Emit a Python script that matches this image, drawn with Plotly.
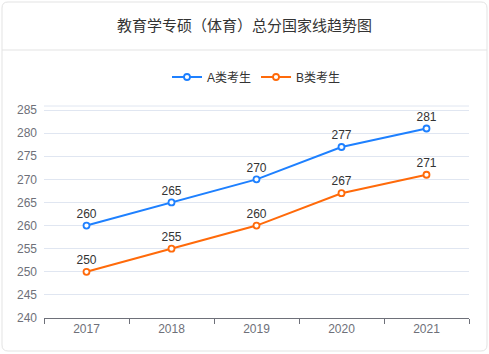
import plotly.graph_objects as go

years = ["2017", "2018", "2019", "2020", "2021"]
a_scores = [260, 265, 270, 277, 281]
b_scores = [250, 255, 260, 267, 271]
y_ticks = [240, 245, 250, 255, 260, 265, 270, 275, 280, 285]

W, H = 489, 354
L, R, T, B = 44, 20, 106, 36
PW = W - L - R
PH = H - T - B

def px_x(x):
    return (x - L) / PW

def px_y(y):
    return (H - B - y) / PH

font = "Helvetica, Arial, 'Noto Sans CJK SC', sans-serif"

fig = go.Figure()
for name, vals, color in [("A类考生", a_scores, "#1E80FF"), ("B类考生", b_scores, "#FF6A0A")]:
    fig.add_trace(go.Scatter(
        x=years, y=vals, name=name, mode="lines+markers+text",
        line=dict(color=color, width=2),
        marker=dict(symbol="circle", size=6, color="white", line=dict(color=color, width=1.8)),
        text=[str(v) for v in vals], textposition="top center",
        textfont=dict(size=12, color="#333", family=font),
        hoverinfo="skip", cliponaxis=False,
    ))

# rounded card outline
x0, x1, y0, y1 = 2, 487, 2, 351
r = 6
def P(x, y):
    return f"{px_x(x):.5f},{px_y(y):.5f}"
card_path = (f"M {P(x0 + r, y0)} L {P(x1 - r, y0)} Q {P(x1, y0)} {P(x1, y0 + r)} "
             f"L {P(x1, y1 - r)} Q {P(x1, y1)} {P(x1 - r, y1)} "
             f"L {P(x0 + r, y1)} Q {P(x0, y1)} {P(x0, y1 - r)} "
             f"L {P(x0, y0 + r)} Q {P(x0, y0)} {P(x0 + r, y0)} Z")

shapes = [
    dict(type="path", xref="paper", yref="paper", path=card_path,
         line=dict(color="#E3E3E3", width=1), fillcolor="rgba(0,0,0,0)", layer="below"),
    dict(type="line", xref="paper", yref="paper", x0=px_x(2), x1=px_x(487), y0=px_y(50), y1=px_y(50),
         line=dict(color="#E3E3E3", width=1)),
    dict(type="line", xref="paper", yref="paper", x0=0, x1=1, y0=1, y1=1,
         line=dict(color="#E0E6F1", width=1), layer="below"),
]

fig.update_layout(
    width=W, height=H, margin=dict(l=L, r=R, t=T, b=B),
    paper_bgcolor="white", plot_bgcolor="white",
    font=dict(family=font, color="#666", size=12),
    title=dict(text="教育学专硕（体育）总分国家线趋势图", x=0.5, xanchor="center",
               y=1 - 26 / H, yanchor="middle", font=dict(size=15, color="#333", family=font)),
    legend=dict(orientation="h", x=0.5, xanchor="center", y=px_y(77), yanchor="middle",
                font=dict(size=12, color="#333", family=font), itemwidth=30, bgcolor="rgba(0,0,0,0)"),
    showlegend=True,
    shapes=shapes,
    xaxis=dict(type="category", range=[-0.5, 4.5], showgrid=False, showline=True,
               linecolor="#6E7079", linewidth=1, ticks="outside", tickson="boundaries",
               ticklen=5, tickcolor="#6E7079", tickfont=dict(size=12, color="#6E7079"), fixedrange=True),
    yaxis=dict(range=[240, 285.87], tickvals=y_ticks, showgrid=True, gridcolor="#E0E6F1",
               gridwidth=1, showline=False, zeroline=False, ticks="", ticklabelstandoff=6,
               tickfont=dict(size=12, color="#6E7079"), fixedrange=True),
)

fig.write_html("out.html")
